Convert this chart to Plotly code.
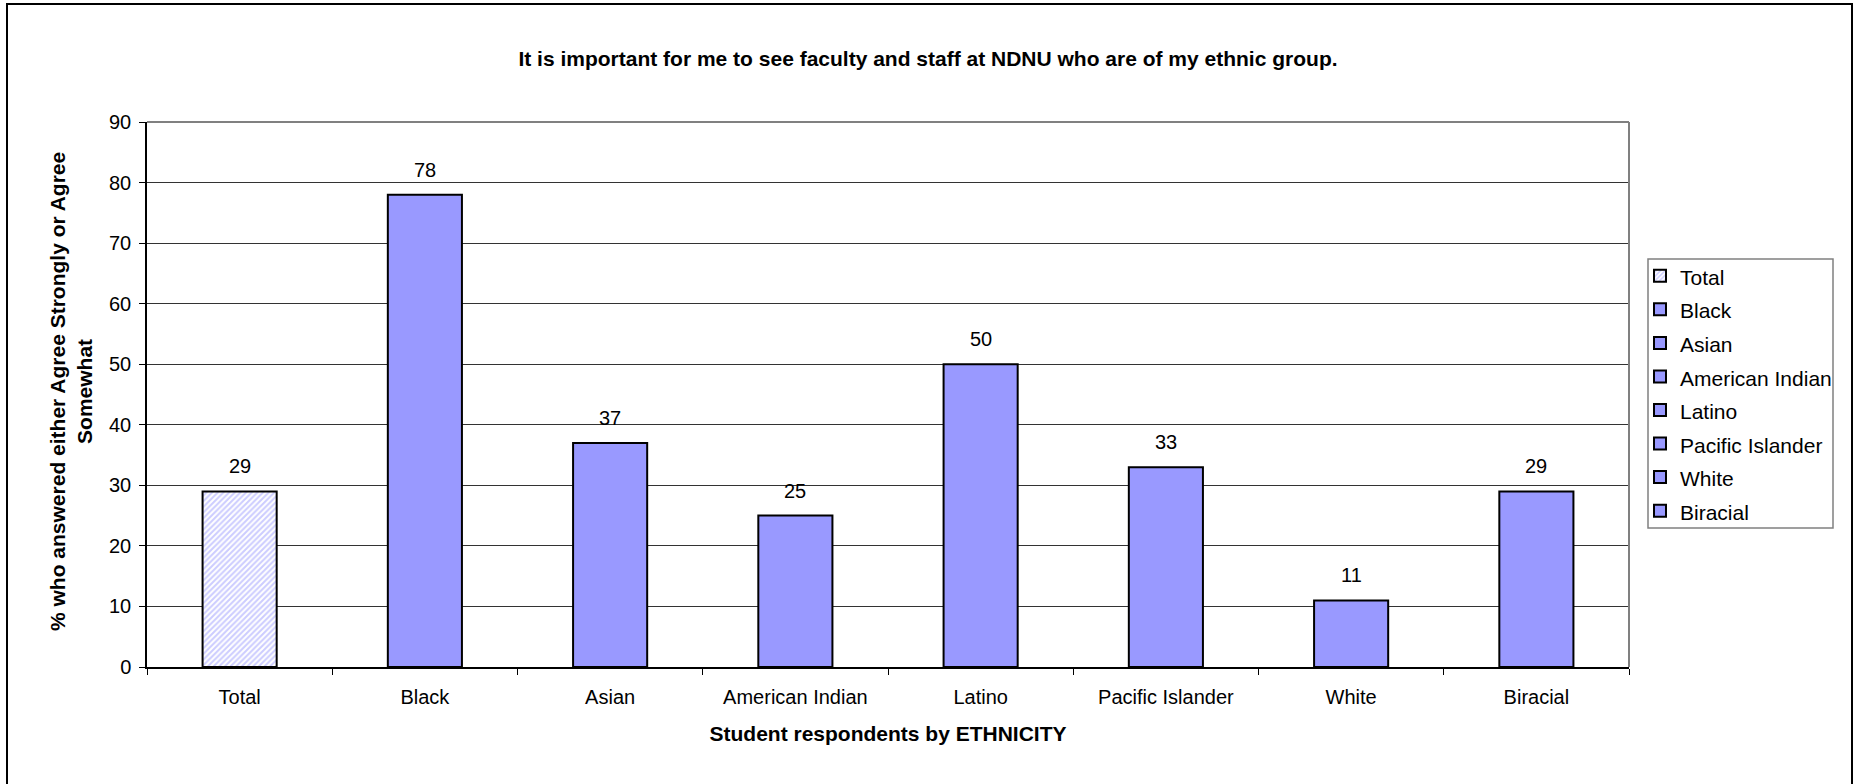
import plotly.graph_objects as go

categories = ["Total", "Black", "Asian", "American Indian", "Latino", "Pacific Islander", "White", "Biracial"]
values = [29, 78, 37, 25, 50, 33, 11, 29]
y_ticks = [0, 10, 20, 30, 40, 50, 60, 70, 80, 90]

title_text = "It is important for me to see faculty and staff at NDNU who are of my ethnic group."
x_title = "Student respondents by ETHNICITY"
y_title = "% who answered either Agree Strongly or Agree<br>Somewhat"

FONT = "Liberation Sans, Arial, sans-serif"
FILL = "#9999FF"

fig = go.Figure()
for cat, val in zip(categories, values):
    if cat == "Total":
        marker = dict(color="white", line=dict(color="black", width=2),
                      pattern=dict(shape="/", fgcolor=FILL, bgcolor="white", size=4, solidity=0.5))
    else:
        marker = dict(color=FILL, line=dict(color="black", width=2))
    fig.add_trace(go.Bar(x=[cat], y=[val], name="<span style='font-size:21px'>" + cat + "</span>",
                         width=0.4, marker=marker, hoverinfo="skip"))
    fig.add_annotation(x=cat, y=val, text=str(val), showarrow=False, yanchor="bottom",
                       yshift=12, font=dict(family=FONT, size=20, color="black"))

L, R, T, B = 147, 225, 122, 117
PW, PH = 1854 - L - R, 784 - T - B

fig.update_layout(
    width=1854, height=784,
    margin=dict(l=L, r=R, t=T, b=B, pad=0),
    paper_bgcolor="white", plot_bgcolor="white",
    barmode="overlay",
    font=dict(family=FONT, size=20, color="black"),
    title=dict(text="<b>" + title_text + "</b>", x=928 / 1854, xref="container", xanchor="center",
               y=1 - 59 / 784, yanchor="middle", font=dict(family=FONT, size=21, color="black")),
    showlegend=True,
    legend=dict(x=(1640 - L) / PW, xanchor="left", y=(784 - B - 254) / PH, yanchor="top",
                borderwidth=0, bgcolor="rgba(0,0,0,0)",
                font=dict(family=FONT, size=23.5, color="black"),
                tracegroupgap=0, itemwidth=30, traceorder="normal"),
    xaxis=dict(type="category", categoryorder="array", categoryarray=categories,
               showline=True, linecolor="black", linewidth=1.5, mirror=False,
               ticks="outside", tickson="boundaries", ticklen=6, tickcolor="black",
               ticklabelstandoff=11,
               tickfont=dict(family=FONT, size=20, color="black"),
               title=dict(text="<b>" + x_title + "</b>", standoff=20,
                          font=dict(family=FONT, size=21, color="black")),
               showgrid=False),
    yaxis=dict(range=[0, 90], tickvals=y_ticks, ticks="outside", ticklen=6, tickcolor="black",
               showline=True, linecolor="black", linewidth=1.5, ticklabelstandoff=4,
               tickfont=dict(family=FONT, size=20, color="black"),
               showgrid=True, gridcolor="#333333", gridwidth=1, zeroline=False),
)

fig.add_annotation(text="<b>" + y_title + "</b>", textangle=-90, xref="paper", yref="paper",
                   x=(71 - L) / PW, y=(784 - B - 392) / PH, xanchor="center", yanchor="middle",
                   showarrow=False, font=dict(family=FONT, size=21, color="black"))

# plot area top/right border (gray)
fig.add_shape(type="line", xref="paper", yref="paper", x0=0, x1=1, y0=1, y1=1,
              line=dict(color="#808080", width=2))
fig.add_shape(type="line", xref="paper", yref="paper", x0=1, x1=1, y0=0, y1=1,
              line=dict(color="#808080", width=2))
# legend frame
fig.add_shape(type="rect", xref="paper", yref="paper",
              x0=(1648 - L) / PW, x1=(1833 - L) / PW,
              y0=(784 - B - 528) / PH, y1=(784 - B - 259) / PH,
              line=dict(color="#808080", width=1.5), fillcolor="rgba(0,0,0,0)", layer="above")
# outer chart frame
fig.add_shape(type="rect", xref="paper", yref="paper",
              x0=(7 - L) / PW, x1=(1852 - L) / PW,
              y0=(784 - B - 800) / PH, y1=(784 - B - 4) / PH,
              line=dict(color="black", width=2), fillcolor="rgba(0,0,0,0)", layer="above")

fig.write_html("out.html")
